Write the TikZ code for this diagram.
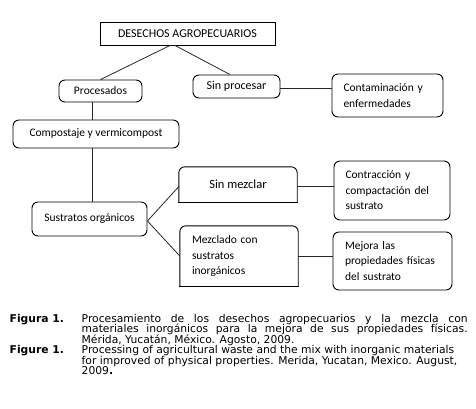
\documentclass[tikz,border=0pt]{standalone}
\usepackage{fontspec}
\setmainfont{Carlito}
\newfontfamily\capfont{DejaVu Sans}
\usetikzlibrary{calc}
\begin{document}
\begin{tikzpicture}[x=1pt,y=-1pt,
  box/.style={draw=black,line width=0.9pt,rounded corners=6pt,inner sep=0pt,
    font=\fontsize{11.5}{15.5}\selectfont},
  sqbox/.style={box,rounded corners=0pt},
  mbox/.style={box,align=left,text width=#1},
  topround/.style={draw=none,inner sep=0pt,font=\fontsize{11.5}{15.5}\selectfont},
  conn/.style={draw=black!85,line width=0.8pt},
  caplab/.style={inner sep=0pt,anchor=base west,font=\capfont\bfseries\fontsize{10.75}{10.5}\selectfont},
  captxt/.style={inner sep=0pt,anchor=base west,font=\capfont\fontsize{10.75}{10.5}\selectfont}
]
\useasboundingbox[fill=white] (0,0) rectangle (476,408);

\node[sqbox,minimum width=175pt,minimum height=23pt,font=\fontsize{12}{15}\selectfont] (des) at (187.5,33.5) {DESECHOS AGROPECUARIOS};
\node[box,minimum width=83pt,minimum height=22pt] (proc) at (100.5,91) {Procesados};
\node[box,minimum width=87pt,minimum height=23pt,font=\fontsize{12}{15}\selectfont] (sinp) at (236.5,86.5) {Sin procesar};
\node[mbox=88pt,minimum width=111pt,minimum height=43pt,inner xsep=11.5pt] (cont) at (387.5,95.5) {Contaminación y\\enfermedades};
\node[box,minimum width=166pt,minimum height=28pt] (comp) at (96,134) {Compostaje y vermicompost};
\node[box,minimum width=115pt,minimum height=34pt] (sust) at (89.5,219) {Sustratos orgánicos};
\node[topround,minimum width=118pt,minimum height=35pt,font=\fontsize{12.5}{15.5}\selectfont] (sinm) at (238,184.5) {Sin mezclar};
\node[topround,align=left,text width=94pt,inner xsep=12pt,minimum width=118pt,minimum height=60pt] (mezc) at (239,256) {Mezclado con\\sustratos\\inorgánicos};
\node[mbox=93pt,minimum width=116pt,minimum height=59pt,inner xsep=11.5pt] (contr) at (392,190.5) {Contracción y\\compactación del\\sustrato};
\node[mbox=95pt,minimum width=119pt,minimum height=58pt,inner xsep=12pt] (mej) at (392.5,261) {Mejora las\\propiedades físicas\\del sustrato};

% boxes with rounded top and square bottom
\foreach \n in {sinm,mezc}{
  \draw[line width=0.9pt,rounded corners=6pt] (\n.south west) -- (\n.north west) -- (\n.north east) -- (\n.south east);
  \draw[line width=0.9pt,line cap=rect] (\n.south west) -- (\n.south east);
}

% connectors
\draw[conn] ([xshift=-17.5pt]des.south) -- (proc.north);
\draw[conn] ([xshift=-12.5pt]des.south) -- ([xshift=-6.5pt]sinp.north);
\draw[conn] ([yshift=-1.5pt]sinp.east) -- ([yshift=-1.5pt]sinp.east -| cont.west);
\draw[conn] ([xshift=-8.5pt]proc.south) -- ([xshift=-8.5pt]proc.south |- comp.north);
\draw[conn] ([xshift=-4pt]comp.south) -- ([xshift=-4pt]comp.south |- sust.north);
\coordinate (sj) at ([yshift=-2pt]sust.east);
\draw[conn] (sj) -- ([yshift=-2pt]sinm.west);
\draw[conn] (sj) -- (mezc.west);
\draw[conn] ([yshift=-2pt]sinm.east) -- ([yshift=-2pt]sinm.east -| contr.west);
\draw[conn] (mezc.east) -- (mezc.east -| mej.west);

% caption
\node[caplab] (l1) at (9.5,322) {Figura 1.};
\node[captxt] (t1a) at (81.5,322) {\makebox[386pt][s]{Procesamiento de los desechos agropecuarios y la mezcla con}};
\node[captxt] (t1b) at (81.5,332.5) {\makebox[386pt][s]{materiales inorgánicos para la mejora de sus propiedades físicas.}};
\node[captxt] (t1c) at (81.5,343) {Mérida, Yucatán, México. Agosto, 2009.};
\node[caplab] (l2) at (9.5,353.5) {Figure 1.};
\node[captxt] (t2a) at (81.5,353.5) {Processing of agricultural waste and the mix with inorganic materials};
\node[captxt] (t2b) at (81.5,364) {for improved of physical properties. Merida, Yucatan, Mexico. August,};
\node[captxt] (t2c) at (81.5,374.5) {2009\textbf{.}};
\end{tikzpicture}
\end{document}
